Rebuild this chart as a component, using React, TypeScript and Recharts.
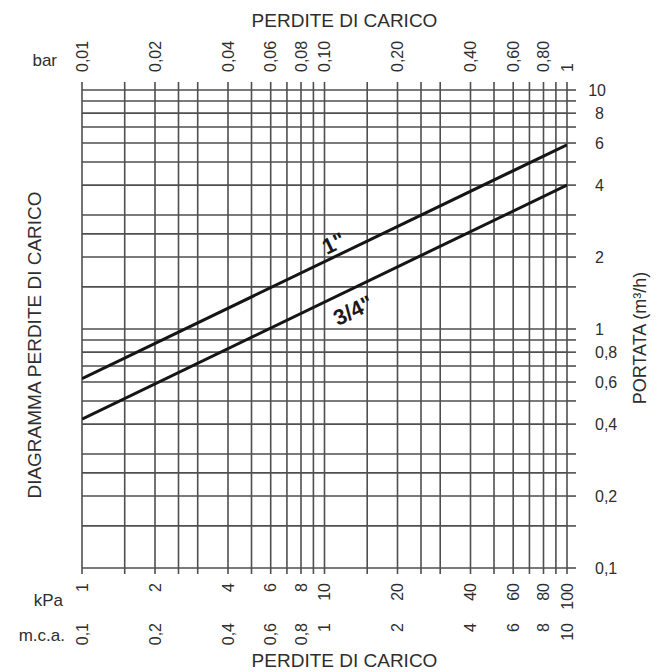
import React from 'react';
import { LineChart, Line, XAxis, YAxis, CartesianGrid, ReferenceDot, Label } from 'recharts';

// Grid values (pressure drop in kPa, flow rate in m3/h)
const kpaGrid = [1, 1.5, 2, 2.5, 3, 4, 5, 6, 7, 8, 9, 10, 15, 20, 25, 30, 40, 50, 60, 70, 80, 90, 100];
const kpaTicks = [1, 2, 4, 6, 8, 10, 20, 40, 60, 80, 100];
const barLabels = ['0,01', '0,02', '0,04', '0,06', '0,08', '0,10', '0,20', '0,40', '0,60', '0,80', '1'];
const kpaLabels = ['1', '2', '4', '6', '8', '10', '20', '40', '60', '80', '100'];
const mcaLabels = ['0,1', '0,2', '0,4', '0,6', '0,8', '1', '2', '4', '6', '8', '10'];
const flowGrid = [0.1, 0.15, 0.2, 0.25, 0.3, 0.4, 0.5, 0.6, 0.7, 0.8, 0.9, 1, 1.5, 2, 2.5, 3, 4, 5, 6, 7, 8, 9, 10];
const flowTicks = [0.1, 0.2, 0.4, 0.6, 0.8, 1, 2, 4, 6, 8, 10];
const flowLabels = ['0,1', '0,2', '0,4', '0,6', '0,8', '1', '2', '4', '6', '8', '10'];

// Series
const pressureKpa = [1, 100];
const flowOneInch = [0.62, 5.9];
const flowThreeQuarter = [0.42, 4.0];
const seriesNames = ['1"', '3/4"'];
const seriesLabelKpa = [10.9, 13.1];
const seriesLabelFlow = [2.29, 1.2];

const oneInchData = pressureKpa.map((k, i) => ({ kpa: k, q: flowOneInch[i] }));
const threeQuarterData = pressureKpa.map((k, i) => ({ kpa: k, q: flowThreeQuarter[i] }));

const FONT = '"Liberation Sans", Arial, Helvetica, sans-serif';
const TXT = '#2e2e2e';
const GRID = '#4f4f4f';
const TICK_FS = 16;

function TopTick(props: any) {
  const { x, y, payload } = props;
  const i = kpaTicks.indexOf(payload.value);
  if (i < 0) return <g />;
  return (
    <text x={x} y={y} dy="0.36em" transform={`rotate(-90 ${x} ${y})`} textAnchor="start"
      fontFamily={FONT} fontSize={TICK_FS} fill={TXT}>{barLabels[i]}</text>
  );
}

function BottomTick(props: any) {
  const { x, y, payload } = props;
  const i = kpaTicks.indexOf(payload.value);
  if (i < 0) return <g />;
  const y2 = y + 40;
  return (
    <g>
      <text x={x} y={y} dy="0.36em" transform={`rotate(-90 ${x} ${y})`} textAnchor="end"
        fontFamily={FONT} fontSize={TICK_FS} fill={TXT}>{kpaLabels[i]}</text>
      <text x={x} y={y2} dy="0.36em" transform={`rotate(-90 ${x} ${y2})`} textAnchor="end"
        fontFamily={FONT} fontSize={TICK_FS} fill={TXT}>{mcaLabels[i]}</text>
    </g>
  );
}

function RightTick(props: any) {
  const { x, y, payload } = props;
  const i = flowTicks.indexOf(payload.value);
  if (i < 0) return <g />;
  const wide = payload.value >= 10;
  return (
    <text x={wide ? x + 11 : x} y={y} dy="0.36em" textAnchor={wide ? 'end' : 'start'}
      fontFamily={FONT} fontSize={TICK_FS} fill={TXT}>{flowLabels[i]}</text>
  );
}

const lineLabel = (text: string) => (p: any) => {
  const vb = p.viewBox || {};
  const cx = (vb.x || 0) + (vb.width || 0) / 2;
  const cy = (vb.y || 0) + (vb.height || 0) / 2;
  return (
    <text x={cx} y={cy} dy="0.36em" textAnchor="middle" transform={`rotate(-26 ${cx} ${cy})`}
      fontFamily={FONT} fontSize={22} fontWeight="bold" fill="#1a1a1a">{text}</text>
  );
};

export default function App() {
  return (
    <div style={{ position: 'absolute', left: 0, top: 0, width: 657, height: 672, background: '#fff' }}>
      <LineChart width={657} height={672} margin={{ top: 0, right: 0, bottom: 0, left: 0 }}>
        <XAxis xAxisId="top" orientation="top" type="number" dataKey="kpa" scale="log" domain={[1, 100]}
          allowDataOverflow ticks={kpaGrid} interval={0} height={90} tickSize={8} tickMargin={10}
          axisLine={false} tickLine={{ stroke: GRID, strokeWidth: 1.6 }} tick={<TopTick />}>
          <Label content={(p: any) => {
            const vb = p.viewBox;
            return (
              <g fontFamily={FONT} fill={TXT}>
                <text x={vb.x + vb.width / 2 + 20} y={vb.y + 27} textAnchor="middle" fontSize={19}>PERDITE DI CARICO</text>
                <text x={vb.x - 25} y={vb.y + 60} dy="0.36em" textAnchor="end" fontSize={17}>bar</text>
              </g>
            );
          }} />
        </XAxis>
        <XAxis xAxisId="bottom" orientation="bottom" type="number" dataKey="kpa" scale="log" domain={[1, 100]}
          allowDataOverflow ticks={kpaGrid} interval={0} height={104} tickSize={6} tickMargin={9}
          axisLine={false} tickLine={{ stroke: GRID, strokeWidth: 1.6 }} tick={<BottomTick />}>
          <Label content={(p: any) => {
            const vb = p.viewBox;
            return (
              <g fontFamily={FONT} fill={TXT}>
                <text x={vb.x - 19} y={vb.y + 32} dy="0.36em" textAnchor="end" fontSize={17}>kPa</text>
                <text x={vb.x - 17} y={vb.y + 67} dy="0.36em" textAnchor="end" fontSize={17}>m.c.a.</text>
                <text x={vb.x + vb.width / 2 + 20} y={vb.y + 99} textAnchor="middle" fontSize={19}>PERDITE DI CARICO</text>
              </g>
            );
          }} />
        </XAxis>
        <YAxis yAxisId="left" orientation="left" type="number" scale="log" domain={[0.1, 10]} allowDataOverflow
          width={82} tick={false} axisLine={false} tickLine={false}>
          <Label content={(p: any) => {
            const vb = p.viewBox;
            const cx = vb.x + 34;
            const cy = vb.y + vb.height / 2 + 16;
            return (
              <text x={cx} y={cy} dy="0.36em" textAnchor="middle" transform={`rotate(-90 ${cx} ${cy})`}
                fontFamily={FONT} fontSize={19} fill={TXT}>DIAGRAMMA PERDITE DI CARICO</text>
            );
          }} />
        </YAxis>
        <YAxis yAxisId="right" orientation="right" type="number" dataKey="q" scale="log" domain={[0.1, 10]}
          allowDataOverflow ticks={flowGrid} interval={0} width={90} tickSize={9} tickMargin={19}
          axisLine={false} tickLine={{ stroke: GRID, strokeWidth: 1.6 }} tick={<RightTick />}>
          <Label content={(p: any) => {
            const vb = p.viewBox;
            const cx = vb.x + 73;
            const cy = vb.y + vb.height / 2 + 9;
            return (
              <text x={cx} y={cy} dy="0.36em" textAnchor="middle" transform={`rotate(-90 ${cx} ${cy})`}
                fontFamily={FONT} fontSize={18} fill={TXT}>PORTATA (m³/h)</text>
            );
          }} />
        </YAxis>
        <CartesianGrid xAxisId="top" yAxisId="right" stroke={GRID} strokeWidth={1.6} />
        <Line xAxisId="bottom" yAxisId="right" data={oneInchData} dataKey="q" name={seriesNames[0]}
          stroke="#151515" strokeWidth={3} dot={false} isAnimationActive={false} />
        <Line xAxisId="bottom" yAxisId="right" data={threeQuarterData} dataKey="q" name={seriesNames[1]}
          stroke="#151515" strokeWidth={3} dot={false} isAnimationActive={false} />
        <ReferenceDot xAxisId="bottom" yAxisId="right" x={seriesLabelKpa[0]} y={seriesLabelFlow[0]} r={1}
          fill="none" stroke="none" label={{ content: lineLabel(seriesNames[0]) }} />
        <ReferenceDot xAxisId="bottom" yAxisId="right" x={seriesLabelKpa[1]} y={seriesLabelFlow[1]} r={1}
          fill="none" stroke="none" label={{ content: lineLabel(seriesNames[1]) }} />
      </LineChart>
    </div>
  );
}
